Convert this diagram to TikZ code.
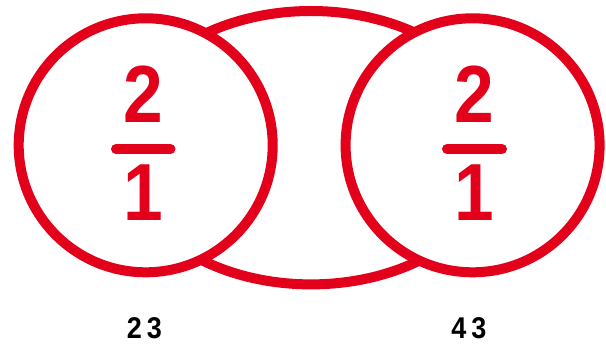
\documentclass[tikz,border=0pt]{standalone}
\usepackage{fontspec}
\setmainfont{Liberation Sans}
\newfontfamily\fracfont[FakeStretch=0.88]{Liberation Sans Bold}
\newfontfamily\labfont[FakeStretch=0.9]{Liberation Sans Bold}
\definecolor{ringred}{RGB}{226,0,26}
\tikzset{
  ring/.style={draw=ringred, line width=10pt},
  fracnum/.style={text=ringred, font=\fracfont\fontsize{81}{81}\selectfont, inner sep=0pt, anchor=center},
  fracbar/.style={draw=ringred, line width=10pt, line cap=round},
  lab/.style={text=black, font=\labfont\fontsize{30}{30}\selectfont, inner sep=0pt}
}
\begin{document}
\begin{tikzpicture}[x=1pt,y=-1pt]
\useasboundingbox (0,0) rectangle (606,347);
% big ellipse
\draw[ring] (311,147.7) ellipse [x radius=192pt, y radius=136.7pt];
% circles (white inside, hiding the ellipse)
\draw[ring, fill=white] (145.7,145.3) circle [radius=127pt];
\draw[ring, fill=white] (472.6,145.3) circle [radius=127pt];
% left fraction
\node[fracnum] (ln) at (143.4,94.7) {2};
\node[fracnum] (ld) at (143.4,193) {1};
\coordinate (lb1) at (116,149);
\coordinate (lb2) at (170.5,149);
\draw[fracbar] (lb1) -- (lb2);
% right fraction
\node[fracnum] (rn) at (474.8,94.7) {2};
\node[fracnum] (rd) at (474.8,193) {1};
\coordinate (rb1) at (447,149);
\coordinate (rb2) at (502,149);
\draw[fracbar] (rb1) -- (rb2);
% labels
\node[lab] (l1) at (144.5,328.5) {2\,3};
\node[lab] (l2) at (469,328.5) {4\,3};
\end{tikzpicture}
\end{document}
